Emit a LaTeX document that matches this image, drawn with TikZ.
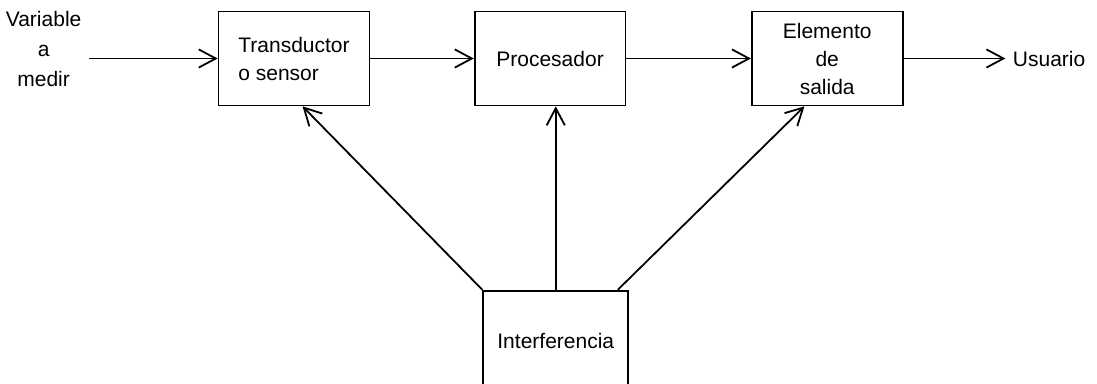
\documentclass[tikz,border=0pt]{standalone}
\usepackage{fontspec}
\setmainfont{Liberation Sans}
\usetikzlibrary{arrows.meta}

\begin{document}
\begin{tikzpicture}[node distance=45mm, line width=0.9pt,
                    >={Straight Barb[length=3mm,width=3.2mm]},
                    every node/.style={font=\fontsize{10.5}{14}\selectfont},
                    block/.style={rectangle, draw, minimum width=26.5mm, minimum height=16.5mm, align=center}]
  \useasboundingbox (-147pt,29.25pt) rectangle (401.5pt,-162.75pt);
  \node[block, align=left] (trans) at (0,0) {Transductor\\o sensor};
   \node[left of=trans, node distance=44mm, yshift=1.6mm, align=center,
         font=\fontsize{10.5}{15}\selectfont] (input) {Variable\\a\\medir};
   \node[block, right of=trans] (proc) {Procesador};
   \node[block, right of=proc, node distance=48.7mm] (elem) {Elemento\\de\\salida};
   \node[right of=elem, node distance=39mm] (user) {Usuario};
   \node[block, below of=proc, node distance=49.6mm, xshift=1mm,
         minimum width=25.5mm, minimum height=17.6mm] (interf) {Interferencia};
   \draw[->] (input.east |- trans) -- (trans);
   \draw[->] (trans) -- (proc);
   \draw[->] (proc) -- (elem);
   \draw[->] (elem) -- (user);
   \draw[->] (interf.north west) -- ([xshift=1.5mm]trans.south);
   \draw[->] (interf) -- (interf |- proc.south);
   \draw[->] ([xshift=-2mm]interf.north east) -- ([xshift=-4mm]elem.south);
 \end{tikzpicture}
\end{document}
